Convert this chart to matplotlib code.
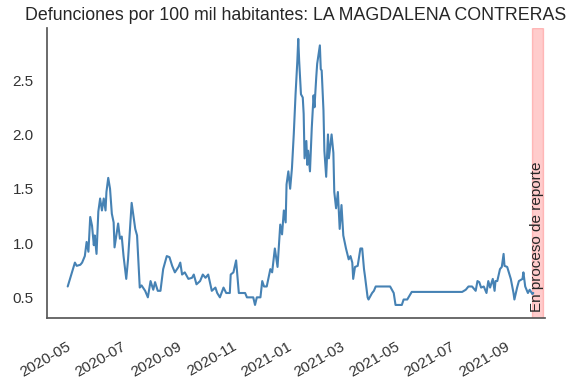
import pandas as pd
import seaborn as sns
import matplotlib.pyplot as plt
import matplotlib.dates as mdates
import matplotlib.transforms as mtransforms

fecha_inicio = pd.Timestamp("2020-05-01")

# dias desde 2020-05-01 y defunciones por 100 mil habitantes
dias = [
    -6, 2, 4, 8, 10, 13, 15, 17, 19, 21,
    23, 24, 26, 28, 30, 32, 34, 36, 37, 39,
    41, 43, 45, 46, 48, 50, 52, 54, 56, 59,
    61, 65, 69, 71, 74, 76, 80, 83, 86, 89,
    91, 94, 97, 100, 104, 107, 110, 113, 117, 119,
    121, 124, 128, 132, 134, 137, 141, 144, 147, 150,
    154, 158, 160, 163, 167, 170, 174, 175, 178, 181,
    184, 191, 193, 200, 202, 204, 208, 210, 212, 215,
    219, 221, 224, 227, 230, 232, 234, 236, 237, 239,
    241, 243, 245, 247, 249, 250, 251, 253, 255, 256,
    257, 259, 260, 261, 263, 265, 267, 268, 270, 271,
    274, 275, 276, 278, 279, 281, 283, 284, 287, 289,
    290, 292, 294, 296, 298, 300, 303, 306, 308, 310,
    311, 313, 316, 319, 321, 323, 324, 327, 328, 332,
    334, 336, 352, 356, 358, 365, 367, 371, 376, 432,
    436, 439, 443, 447, 449, 451, 453, 456, 459, 461,
    463, 466, 468, 469, 471, 474, 476, 478, 479, 482,
    486, 489, 490, 493, 495, 499, 500, 502, 505, 507,
    510, 511,
]
valores = [
    0.60, 0.82, 0.79, 0.80, 0.82, 0.88, 1.01, 0.92, 1.24, 1.16,
    0.98, 1.07, 0.90, 1.29, 1.41, 1.30, 1.41, 1.30, 1.47, 1.60,
    1.50, 1.27, 1.19, 0.96, 1.07, 1.18, 1.04, 1.06, 0.88, 0.67,
    0.85, 1.37, 1.13, 1.07, 0.59, 0.61, 0.56, 0.50, 0.65, 0.57,
    0.64, 0.56, 0.56, 0.76, 0.88, 0.87, 0.79, 0.73, 0.78, 0.82,
    0.71, 0.73, 0.67, 0.68, 0.71, 0.62, 0.65, 0.71, 0.68, 0.71,
    0.56, 0.59, 0.54, 0.50, 0.59, 0.54, 0.54, 0.71, 0.73, 0.84,
    0.54, 0.54, 0.50, 0.50, 0.43, 0.50, 0.50, 0.65, 0.60, 0.60,
    0.76, 0.73, 0.95, 0.78, 1.17, 1.08, 1.30, 1.19, 1.54, 1.66,
    1.50, 1.69, 2.00, 2.37, 2.68, 2.88, 2.68, 2.37, 2.34, 2.19,
    1.78, 1.94, 1.72, 1.85, 1.66, 2.06, 2.36, 2.25, 2.53, 2.65,
    2.82, 2.60, 2.59, 2.22, 1.85, 1.61, 2.00, 1.78, 2.00, 1.83,
    1.47, 1.32, 1.47, 1.13, 1.35, 1.07, 0.95, 0.85, 0.88, 0.82,
    0.67, 0.78, 0.79, 0.95, 0.95, 0.76, 0.70, 0.50, 0.48, 0.54,
    0.56, 0.60, 0.60, 0.54, 0.43, 0.43, 0.48, 0.48, 0.55, 0.55,
    0.57, 0.60, 0.60, 0.56, 0.65, 0.64, 0.59, 0.60, 0.54, 0.65,
    0.59, 0.67, 0.56, 0.65, 0.65, 0.76, 0.78, 0.90, 0.79, 0.78,
    0.67, 0.54, 0.48, 0.59, 0.65, 0.67, 0.73, 0.60, 0.54, 0.57,
    0.53, 0.54,
]

alcaldia = "LA MAGDALENA CONTRERAS"
inicio_reporte = "2021-09-22"
fin_reporte = "2021-10-05"
limite_x = ("2020-04-02", "2021-10-07")
limite_y = (0.31, 2.98)

sns.set_theme(style="white")
plt.rcParams["font.family"] = ["Liberation Sans", "DejaVu Sans"]

fechas = fecha_inicio + pd.to_timedelta(dias, unit="D")
serie = pd.Series(valores, index=fechas)

fig = plt.figure(figsize=(5.71, 3.81), dpi=100)
ax = fig.add_axes([0.0823, 0.1654, 0.8722, 0.7611])

ax.plot(serie.index, serie.values, color="steelblue", linewidth=1.5)
ax.axvspan(pd.Timestamp(inicio_reporte), pd.Timestamp(fin_reporte), color="red", alpha=0.2)

trans = mtransforms.blended_transform_factory(ax.transData, ax.transAxes)
centro = pd.Timestamp(inicio_reporte) + (pd.Timestamp(fin_reporte) - pd.Timestamp(inicio_reporte)) / 2
ax.text(centro, 0.02, "En proceso de reporte", rotation=90, transform=trans,
        ha="center", va="bottom", fontsize=11, color="0.15")

ax.set_xlim(pd.Timestamp(limite_x[0]), pd.Timestamp(limite_x[1]))
ax.set_ylim(*limite_y)
ax.xaxis.set_major_locator(mdates.MonthLocator(bymonth=[1, 3, 5, 7, 9, 11]))
ax.xaxis.set_major_formatter(mdates.DateFormatter("%Y-%m"))
ax.tick_params(axis="x", pad=9.5, colors="0.2")
ax.tick_params(axis="y", colors="0.2")
for lbl in ax.get_xticklabels():
    lbl.set_rotation(30)
    lbl.set_ha("right")

ax.set_title(f"Defunciones por 100 mil habitantes: {alcaldia}", fontsize=12.8, color="0.15")
sns.despine(ax=ax)
for lado in ["left", "bottom"]:
    ax.spines[lado].set_color("0.35")

fig.savefig("out.png", dpi=100)
